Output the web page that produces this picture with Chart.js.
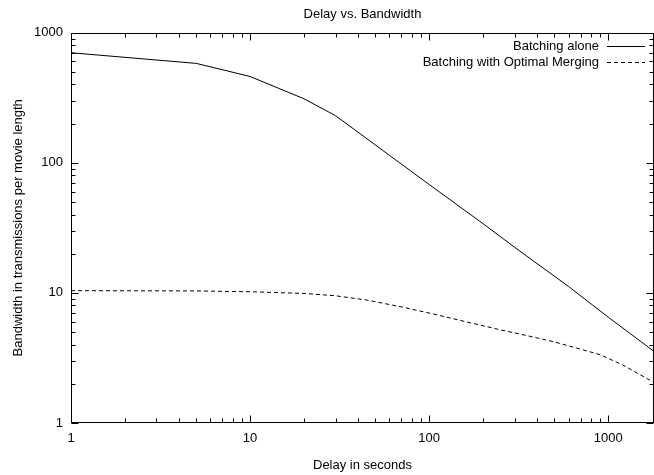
<!DOCTYPE html>
<html>
<head>
<meta charset="utf-8">
<title>Delay vs. Bandwidth</title>
<script src="https://cdn.jsdelivr.net/npm/chart.js@4.4.1/dist/chart.umd.min.js"></script>
<style>
    html, body { margin: 0; padding: 0; background: #fff; }
    #wrap { width: 654px; height: 475px; }
</style>
</head>
<body>
<div id="wrap"><canvas id="chart"></canvas></div>
<script>
// values (log-log)
const aloneDelays = [1, 5, 10, 20, 30, 60, 100, 200, 300, 600, 1000, 1800];
const aloneBandwidth = [700, 580, 460, 310, 230, 114, 68, 34, 22.4, 11.2, 6.5, 3.55];

const mergingDelays = [1, 5, 10, 20, 30, 45, 70, 100, 160, 250, 350, 500, 650, 900, 1200, 1800];
const mergingBandwidth = [10.4, 10.35, 10.2, 9.9, 9.5, 8.8, 7.8, 7.0, 6.0, 5.2, 4.7, 4.2, 3.8, 3.35, 2.8, 2.05];

const seriesLabels = ['Batching alone', 'Batching with Optimal Merging'];
const xTickLabels = [1, 10, 100, 1000];
const yTickLabels = [1, 10, 100, 1000];

const FONT = "'Liberation Sans', Arial, Helvetica, sans-serif";

const toPoints = (xs, ys) => xs.map((x, i) => ({ x: x, y: ys[i] }));

// gnuplot style frame with inward ticks on all four sides, plus the key
const gnuplotFrame = {
    id: 'gnuplotFrame',
    afterDraw(chart) {
        const { ctx, chartArea: a, scales: { x, y } } = chart;
        const L = Math.round(a.left) + 0.5;
        const R = Math.round(a.right) - 0.5;
        const T = Math.round(a.top) + 0.5;
        const B = Math.round(a.bottom) - 0.5;
        ctx.save();
        ctx.strokeStyle = '#000';
        ctx.lineWidth = 1;
        ctx.setLineDash([]);
        ctx.strokeRect(L, T, R - L, B - T);

        ctx.beginPath();
        for (let d = 0; d <= 4; d++) {
            for (let k = 1; k <= 9; k++) {
                const v = k * Math.pow(10, d);
                const len = k === 1 ? 7 : 4;
                if (v >= x.min && v <= x.max) {
                    const px = Math.round(x.getPixelForValue(v)) + 0.5;
                    ctx.moveTo(px, B); ctx.lineTo(px, B - len);
                    ctx.moveTo(px, T); ctx.lineTo(px, T + len);
                }
                if (v >= y.min && v <= y.max) {
                    const py = Math.round(y.getPixelForValue(v)) + 0.5;
                    ctx.moveTo(L, py); ctx.lineTo(L + len, py);
                    ctx.moveTo(R, py); ctx.lineTo(R - len, py);
                }
            }
        }
        ctx.stroke();

        // key, top right inside the plot
        ctx.font = '13px ' + FONT;
        ctx.fillStyle = '#000';
        ctx.textAlign = 'right';
        ctx.textBaseline = 'middle';
        chart.data.datasets.forEach((ds, i) => {
            const ky = 46 + i * 16;
            ctx.fillText(ds.label, 599, ky);
            ctx.beginPath();
            ctx.setLineDash(ds.borderDash || []);
            ctx.moveTo(607, ky + 0.5);
            ctx.lineTo(645, ky + 0.5);
            ctx.stroke();
        });
        ctx.restore();
    }
};

new Chart(document.getElementById('chart'), {
    type: 'line',
    data: {
        datasets: [{
            label: seriesLabels[0],
            data: toPoints(aloneDelays, aloneBandwidth),
            borderColor: '#000',
            borderWidth: 1,
            pointRadius: 0,
            tension: 0,
            fill: false
        }, {
            label: seriesLabels[1],
            data: toPoints(mergingDelays, mergingBandwidth),
            borderColor: '#000',
            borderWidth: 1,
            borderDash: [4, 3],
            pointRadius: 0,
            tension: 0,
            fill: false
        }]
    },
    options: {
        responsive: true,
        maintainAspectRatio: false,
        animation: false,
        layout: { padding: { left: 0, right: 0, top: 0, bottom: 0 } },
        plugins: {
            legend: { display: false },
            tooltip: { enabled: false },
            title: {
                display: true,
                text: 'Delay vs. Bandwidth',
                fullSize: false,
                color: '#000',
                font: { family: FONT, size: 13, weight: 'normal' },
                padding: { top: 7, bottom: 10 }
            }
        },
        scales: {
            x: {
                type: 'logarithmic',
                min: 1,
                max: 1800,
                grid: { display: false, drawTicks: false },
                border: { display: false },
                afterFit: (s) => {
                    s.height = 52;
                    s.paddingLeft = 0;
                    s.paddingRight = 0;
                },
                ticks: {
                    autoSkip: false,
                    maxRotation: 0,
                    padding: 8,
                    color: '#000',
                    font: { family: FONT, size: 13 },
                    callback: (v) => xTickLabels.includes(v) ? String(v) : ''
                },
                title: {
                    display: true,
                    text: 'Delay in seconds',
                    color: '#000',
                    font: { family: FONT, size: 13 },
                    padding: { top: 0, bottom: 2 }
                }
            },
            y: {
                type: 'logarithmic',
                min: 1,
                max: 1000,
                grid: { display: false, drawTicks: false },
                border: { display: false },
                afterFit: (s) => {
                    s.width = 71;
                    s.paddingTop = 0;
                    s.paddingBottom = 0;
                },
                ticks: {
                    autoSkip: false,
                    padding: 8,
                    color: '#000',
                    font: { family: FONT, size: 13 },
                    callback: (v) => yTickLabels.includes(v) ? String(v) : ''
                },
                title: {
                    display: true,
                    text: 'Bandwidth in transmissions per movie length',
                    color: '#000',
                    font: { family: FONT, size: 13 },
                    padding: { top: 11, bottom: 0 }
                }
            }
        }
    },
    plugins: [gnuplotFrame]
});
</script>
</body>
</html>
